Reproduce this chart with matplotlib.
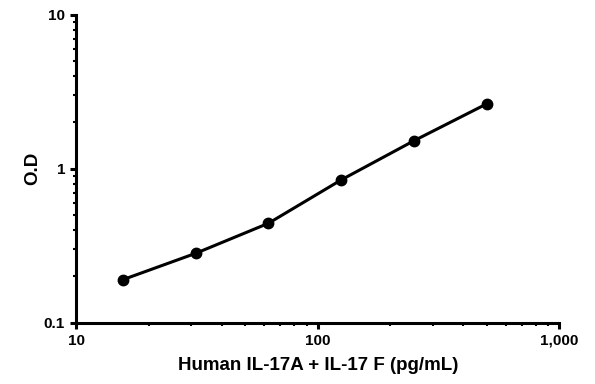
import matplotlib.pyplot as plt
from matplotlib.ticker import FixedLocator, FixedFormatter, LogLocator, NullFormatter

# Standard curve data
conc = [15.6, 31.25, 62.5, 125, 250, 500]
od = [0.19, 0.282, 0.442, 0.846, 1.52, 2.64]

x_ticks = [10, 100, 1000]
x_labels = ["10", "100", "1,000"]
y_ticks = [0.1, 1, 10]
y_labels = ["0.1", "1", "10"]

plt.rcParams["font.family"] = ["Liberation Sans", "DejaVu Sans"]
plt.rcParams["font.weight"] = "bold"

fig = plt.figure(figsize=(5.95, 3.84), dpi=100)
ax = fig.add_axes([0.128, 0.160, 0.812, 0.801])

ax.plot(conc, od, color="black", linewidth=2.2, marker="o", markersize=7.5,
        solid_capstyle="round", solid_joinstyle="round")

ax.set_xscale("log")
ax.set_yscale("log")
ax.set_xlim(10, 1000)
ax.set_ylim(0.1, 10)

ax.xaxis.set_major_locator(FixedLocator(x_ticks))
ax.xaxis.set_major_formatter(FixedFormatter(x_labels))
ax.yaxis.set_major_locator(FixedLocator(y_ticks))
ax.yaxis.set_major_formatter(FixedFormatter(y_labels))
ax.xaxis.set_minor_locator(LogLocator(base=10, subs=range(2, 10)))
ax.yaxis.set_minor_locator(LogLocator(base=10, subs=range(2, 10)))
ax.xaxis.set_minor_formatter(NullFormatter())
ax.yaxis.set_minor_formatter(NullFormatter())

for side in ["top", "right"]:
    ax.spines[side].set_visible(False)
for side in ["left", "bottom"]:
    ax.spines[side].set_linewidth(2.2)

ax.tick_params(which="major", direction="out", length=4, width=2.2,
               labelsize=11, pad=4)
ax.tick_params(which="minor", direction="out", length=2, width=1.5)

ax.set_xlabel("Human IL-17A + IL-17 F (pg/mL)", fontsize=13.5, fontweight="bold", labelpad=7)
ax.set_ylabel("O.D", fontsize=13.5, fontweight="bold", labelpad=2)

fig.savefig("out.png", dpi=100)
